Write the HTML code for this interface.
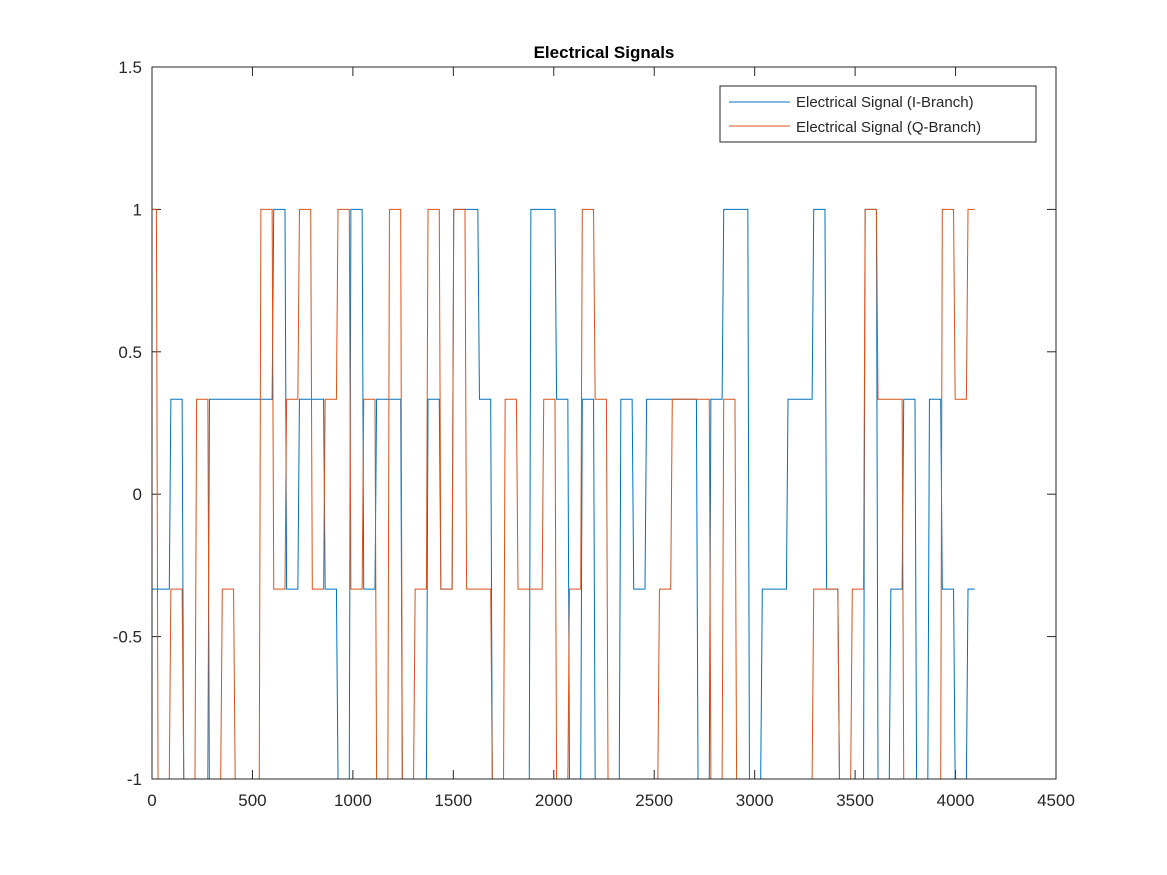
<!DOCTYPE html>
<html><head><meta charset="utf-8"><style>
body{margin:0;background:#fff;}
svg{display:block;font-family:"Liberation Sans",Arial,sans-serif;}
</style></head><body>
<svg id="chart" width="1167" height="875" viewBox="0 0 1167 875" xmlns="http://www.w3.org/2000/svg">
<rect x="0" y="0" width="1167" height="875" fill="#fff"/>
<text x="604" y="58" text-anchor="middle" font-size="17" font-weight="bold" fill="#000">Electrical Signals</text>
<g id="ticks"></g>
<g id="series" fill="none" stroke-width="1"></g>
<rect x="152" y="67" width="904" height="712" fill="none" stroke="#262626" stroke-width="1"/>
<g>
<rect x="720" y="86" width="316" height="56" fill="#fff" stroke="#262626" stroke-width="1"/>
<line x1="729" y1="102" x2="790" y2="102" stroke="#0072BD"/>
<text x="796" y="107" font-size="15" fill="#262626">Electrical Signal (I-Branch)</text>
<line x1="729" y1="126" x2="790" y2="126" stroke="#D95319"/>
<text x="796" y="132" font-size="15" fill="#262626">Electrical Signal (Q-Branch)</text>
</g>
</svg>
<script>
const xTicks=[0,500,1000,1500,2000,2500,3000,3500,4000,4500];
const yTicks=[-1,-0.5,0,0.5,1,1.5];
const yTickLabels=["-1","-0.5","0","0.5","1","1.5"];
const iLevels=[-1,-1,1,-3,-3,1,1,1,1,1,3,-1,1,1,-1,-3,3,-1,1,1,-3,-3,1,-1,3,3,1,-3,-3,-3,3,3,1,-3,1,-3,-3,1,-1,1,1,1,1,-3,1,3,3,-3,-1,-1,1,1,3,-1,-3,-3,3,-3,-1,1,-3,1,-1,-3,-1];
const qLevels=[3,-3,-1,-3,1,-3,-1,-3,-3,3,-1,1,3,-1,1,3,-1,1,-3,3,-3,-1,3,-1,3,-1,-1,-3,1,-1,-1,1,-3,-1,3,1,-3,-3,-3,-3,-1,1,1,1,-3,1,-3,-3,-3,-3,-3,-3,-1,-1,-3,-1,3,1,1,-3,-3,-3,3,1,3];
const symLen=64, symOffset=26, nSamples=4096;

const X0=152,X1=1056,Y0=779,Y1=67;
const xs=v=>X0+(v-0)/(4500-0)*(X1-X0);
const ys=v=>Y0-(v-(-1))/(1.5-(-1))*(Y0-Y1);
const NS="http://www.w3.org/2000/svg";
const tg=document.getElementById('ticks');
xTicks.forEach(t=>{
  const x=xs(t);
  [[Y0,Y0-9],[Y1,Y1+9]].forEach(([a,b])=>{
    const l=document.createElementNS(NS,'line');
    
    
    l.setAttribute('x1',x);l.setAttribute('x2',x);l.setAttribute('y1',a);l.setAttribute('y2',b);
    l.setAttribute('stroke','#262626');tg.appendChild(l);
  });
  const tx=document.createElementNS(NS,'text');
  
  
  tx.setAttribute('x',x);tx.setAttribute('y',806);tx.setAttribute('text-anchor','middle');
  tx.setAttribute('font-size','17');tx.setAttribute('fill','#262626');tx.textContent=String(t);tg.appendChild(tx);
});
yTicks.forEach((t,i)=>{
  const y=ys(t);
  [[X0,X0+9],[X1,X1-9]].forEach(([a,b])=>{
    const l=document.createElementNS(NS,'line');
    
    
    l.setAttribute('y1',y);l.setAttribute('y2',y);l.setAttribute('x1',a);l.setAttribute('x2',b);
    l.setAttribute('stroke','#262626');tg.appendChild(l);
  });
  const tx=document.createElementNS(NS,'text');
  
  
  tx.setAttribute('x',142);tx.setAttribute('y',y+6);tx.setAttribute('text-anchor','end');
  tx.setAttribute('font-size','17');tx.setAttribute('fill','#262626');tx.textContent=yTickLabels[i];tg.appendChild(tx);
});
function buildPath(levels){
  const pts=[];const r=4;
  levels.forEach((lv,j)=>{
    const k=j-1;
    let a=symOffset+symLen*k+r, b=symOffset+symLen*(k+1)-r;
    a=Math.max(0,a); b=Math.min(nSamples-1,b);
    if(b<a) return;
    const v=lv/3;
    pts.push(xs(a).toFixed(2)+','+ys(v).toFixed(2));
    pts.push(xs(b).toFixed(2)+','+ys(v).toFixed(2));
  });
  return 'M'+pts.join('L');
}
const sg=document.getElementById('series');
[[iLevels,'#0072BD','series-i-branch'],[qLevels,'#D95319','series-q-branch']].forEach(([lv,c,n])=>{
  const p=document.createElementNS(NS,'path');
  
  
  p.setAttribute('d',buildPath(lv));p.setAttribute('stroke',c);p.setAttribute('fill','none');
  sg.appendChild(p);
});
</script>
</body></html>
